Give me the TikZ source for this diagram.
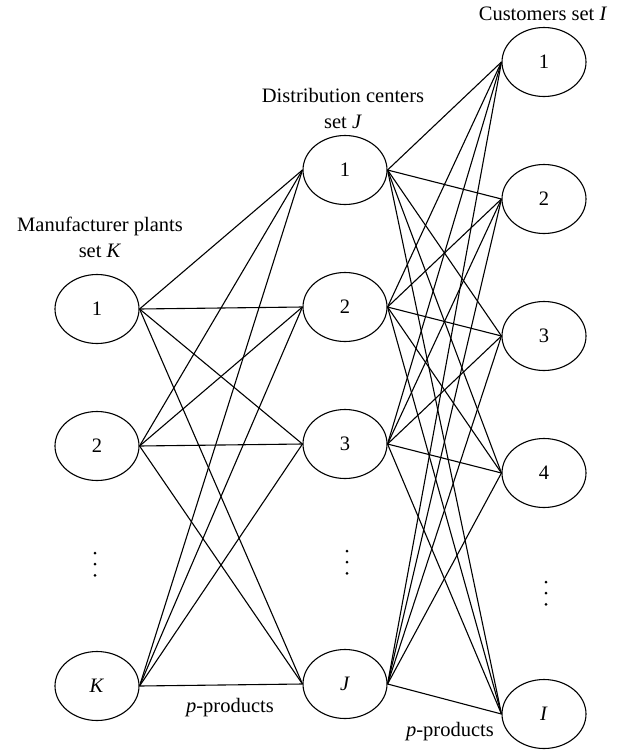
\documentclass[tikz,border=0pt]{standalone}
\usepackage{fontspec}
\setmainfont{Liberation Serif}
\usetikzlibrary{shapes.geometric}
\begin{document}
\begin{tikzpicture}[x=1pt,y=-1pt,
  every node/.style={font=\fontsize{20.5}{26}\selectfont},
  site/.style={draw, ellipse, line width=1.1pt, minimum width=84pt, minimum height=69pt, inner sep=0pt},
  link/.style={line width=1.1pt},
  caption/.style={align=center, inner sep=0pt},
  dotmark/.style={fill=black}]
\useasboundingbox (0,0) rectangle (627,750);

% manufacturer plants
\node[site] (k1) at (97,309) {1};
\node[site] (k2) at (97,446) {2};
\node[site] (kK) at (97,686) {\textit{K}};

% distribution centers
\node[site] (j1) at (345,170) {1};
\node[site] (j2) at (345,307) {2};
\node[site] (j3) at (345,444) {3};
\node[site] (jJ) at (345,684) {\textit{J}};

% customers
\node[site] (i1) at (544,62) {1};
\node[site] (i2) at (544,199) {2};
\node[site] (i3) at (544,336) {3};
\node[site] (i4) at (544,473) {4};
\node[site] (iI) at (544,714) {\textit{I}};

% plants to distribution centers
\foreach \a in {k1,k2,kK}
  \foreach \b in {j1,j2,j3,jJ}
    \draw[link] (\a.east) -- (\b.west);

% distribution centers to customers
\foreach \a in {j1,j2,j3,jJ}
  \foreach \b in {i1,i2,i3,i4,iI}
    \draw[link] (\a.east) -- (\b.west);

% column captions
\node[caption] (capk) at (100,237) {Manufacturer plants\\set \textit{K}};
\node[caption] (capj) at (343,108) {Distribution centers\\set \textit{J}};
\node[caption] (capi) at (543,14) {Customers set \textit{I}};

% flow labels
\node[caption] (flowkj) at (230,708) {\textit{p}-products};
\node[caption] (flowji) at (450,732) {\textit{p}-products};

% omitted members of each set
\foreach \x/\y in {95/553, 347/551, 546/582}
  \foreach \d in {0,11.2,22.4}
    \fill[dotmark] (\x,\y+\d) circle (1.5pt);
\end{tikzpicture}
\end{document}
